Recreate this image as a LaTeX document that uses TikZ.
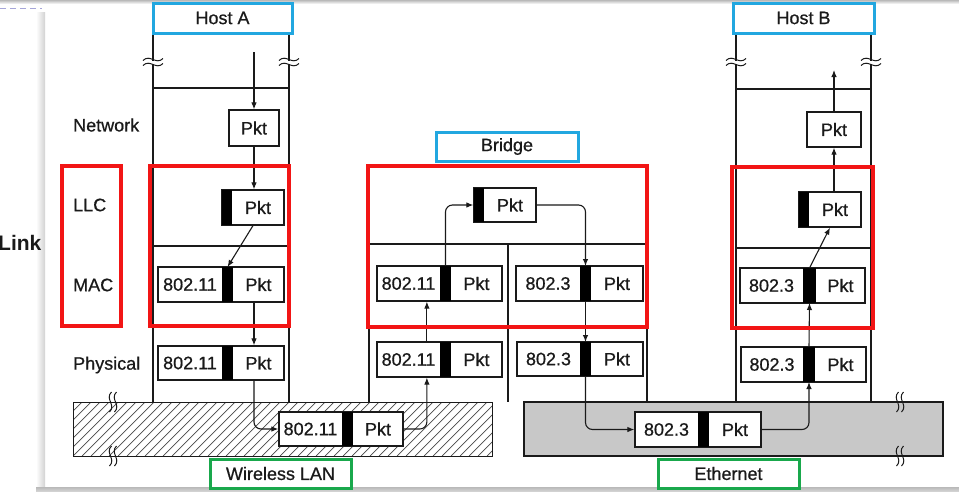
\documentclass[tikz,border=0pt]{standalone}
\usepackage{fontspec}
\setmainfont{Liberation Sans}
\usetikzlibrary{arrows.meta,calc}
\definecolor{hcyan}{HTML}{22A7E0}
\definecolor{hred}{HTML}{F21515}
\definecolor{hgreen}{HTML}{19A84C}
\definecolor{egray}{HTML}{C8C8C8}
\definecolor{ink}{HTML}{1A1A1A}
\tikzset{
  ln/.style={draw=ink,line width=1.2pt},
  pbox/.style={draw=ink,line width=1.2pt,fill=white,rectangle,inner sep=0pt},
  txt/.style={inner sep=0pt,font=\fontsize{18}{20}\selectfont\addfontfeature{FakeBold=0.7},text=ink},
  lbl/.style={txt,anchor=west},
  arr/.style={draw=ink,line width=1.1pt,-{Latex[length=7pt,width=5.5pt]}},
  redbox/.style={draw=hred,line width=3.5pt},
  cyanbox/.style={txt,draw=hcyan,line width=3pt,fill=white},
  greenbox/.style={txt,draw=hgreen,line width=3pt,fill=white},
  hatch/.style={draw=ink!80,line width=0.7pt},
}
% name, x1, y1, x2, y2, bar x1, bar x2, header label
\newcommand\pktbox[8]{%
  \node[pbox,minimum width={#4-#2},minimum height={#5-#3}] (#1) at ({(#2+#4)/2},{(#3+#5)/2}) {};
  \fill[black] (#6,#3) rectangle (#7,#5);
  \node[txt] (#1-h) at ({(#2+#6)/2},{(#3+#5)/2}) {#8};
  \node[txt] (#1-p) at ({(#7+#4)/2},{(#3+#5)/2}) {Pkt};
  \coordinate (#1-bt) at ({(#6+#7)/2},#3);
  \coordinate (#1-bb) at ({(#6+#7)/2},#5);
}
\newcommand\brkV[2]{%
  \fill[white] ({#1-2},{#2-1.5}) rectangle ({#1+2},{#2+1.5});
  \foreach \dy in {-2.5,2.5}{
    \draw[ink,line width=1pt] ({#1-10},{#2+(\dy)+1}) .. controls ({#1-3},{#2+(\dy)-6}) and ({#1+3},{#2+(\dy)+6}) .. ({#1+10},{#2+(\dy)-1});
  }}
\newcommand\brkH[2]{%
  \foreach \dx in {-2.5,2.5}{
    \draw[ink,line width=1pt] ({#1+(\dx)+1},{#2-10}) .. controls ({#1+(\dx)-6},{#2-3}) and ({#1+(\dx)+6},{#2+3}) .. ({#1+(\dx)-1},{#2+10});
  }}
\begin{document}
\begin{tikzpicture}[x=1pt,y=-1pt]
\useasboundingbox (0,0) rectangle (959,491);
% ---- frame ----
\fill[white] (0,0) rectangle (959,491);
\shade[top color=gray!55,bottom color=white] (0,0) rectangle (959,4);
\draw[gray!60!blue!50,line width=1pt,dash pattern=on 6pt off 4pt] (0,8) -- (42,8);
\shade[left color=white,right color=gray!35] (36,12) rectangle (45,487);
\shade[top color=gray!55,bottom color=gray!35] (36,487) rectangle (959,491);
\node[anchor=west,inner sep=0pt,font=\bfseries\fontsize{21}{24}\selectfont,text=ink] (link) at (-2,243) {Link};

% ---- bands ----
\begin{scope}
  \clip (73,402) rectangle (492,456);
  \foreach \i in {0,...,55}{
    \draw[hatch] ({19+9*\i},456) -- ++(54,-54);
  }
\end{scope}
\draw[ln,line width=0.9pt] (73,402) rectangle (492,456);
\fill[egray] (524,402) rectangle (943,456);
\draw[ln,line width=1.3pt] (524,402) rectangle (943,456);
\brkH{113}{402}
\brkH{113}{456}
\brkH{900}{402}
\brkH{900}{456}

% ---- layer labels ----
\node[lbl] (lnet) at (73,125) {Network};
\node[lbl] (lllc) at (73,205) {LLC};
\node[lbl] (lmac) at (73,285) {MAC};
\node[lbl] (lphy) at (73,365) {Physical};

% ---- Host A stack ----
\draw[ln] (153,33) -- (153,402);
\draw[ln] (289,33) -- (289,402);
\draw[ln] (153,88) -- (289,88);
\draw[ln] (153,166) -- (289,166);
\draw[ln] (153,246) -- (289,246);
\draw[ln] (153,326) -- (289,326);
\brkV{153}{62}
\brkV{289}{62}
\node[pbox,txt,minimum width=50,minimum height=36] (anet) at (254,128) {Pkt};
\pktbox{allc}{222}{190}{284}{225}{222}{232}{}
\pktbox{amac}{158}{267}{284}{302}{222}{233}{802.11}
\pktbox{aphy}{158}{346}{284}{380}{222}{233}{802.11}

% ---- Bridge stack ----
\draw[ln] (369,166) -- (369,402);
\draw[ln] (647,166) -- (647,402);
\draw[ln] (369,166) -- (647,166);
\draw[ln] (369,244) -- (647,244);
\draw[ln] (369,326) -- (647,326);
\draw[ln] (508,244) -- (508,402);
\pktbox{rllc}{474}{188}{536}{222}{474}{484}{}
\pktbox{rmac1}{377}{266}{502}{301}{440}{451}{802.11}
\pktbox{rmac2}{516}{266}{643}{301}{580}{591}{802.3}
\pktbox{rphy1}{377}{342}{502}{377}{440}{451}{802.11}
\pktbox{rphy2}{517}{342}{643}{376}{580}{591}{802.3}

% ---- Host B stack ----
\draw[ln] (736,33) -- (736,402);
\draw[ln] (871,33) -- (871,402);
\draw[ln] (736,89) -- (871,89);
\draw[ln] (736,167) -- (871,167);
\draw[ln] (736,248) -- (871,248);
\draw[ln] (736,328) -- (871,328);
\brkV{736}{62}
\brkV{871}{62}
\node[pbox,txt,minimum width=54,minimum height=35] (bnet) at (834,129.5) {Pkt};
\pktbox{bllc}{799}{192}{861}{227}{799}{809}{}
\pktbox{bmac}{740}{268}{865}{303}{803}{816}{802.3}
\pktbox{bphy}{741}{347}{866}{382}{803}{815}{802.3}

% ---- packets on the media ----
\pktbox{wpk}{279}{412}{403}{446}{342}{353}{802.11}
\pktbox{epk}{635}{412}{761}{447}{698}{709}{802.3}

% ---- connectors ----
\coordinate (atop) at (254,52);
\coordinate (btop) at (834,70);
\draw[arr] (atop) -- (anet.north);
\draw[arr] (anet.south) -- (anet.south |- allc.north);
\draw[arr] (allc.south) -- (amac-bt);
\draw[arr] (amac.south -| anet) -- (aphy.north -| anet);
\draw[arr,rounded corners=7pt] (aphy.south -| anet) |- (wpk.west);
\draw[arr,rounded corners=7pt] (wpk.east) -| ($(rphy1.south west)!0.4!(rphy1.south east)$);
\draw[arr] ($(rphy1.north west)!0.4!(rphy1.north east)$) -- ($(rmac1.south west)!0.4!(rmac1.south east)$);
\draw[arr,rounded corners=7pt] (rmac1-bt) |- (rllc.west);
\draw[arr,rounded corners=7pt] (rllc.east) -| (rmac2-bt);
\draw[arr] (rmac2-bb) -- (rphy2-bt);
\draw[arr,rounded corners=7pt] (rphy2-bb) |- (epk.west);
\draw[arr,rounded corners=7pt] (epk.east) -| (bphy-bb);
\draw[arr] (bphy-bt) -- (bmac-bb);
\draw[arr] (bmac-bt) -- (bllc.south);
\draw[arr] (bllc.north -| bnet) -- (bnet.south);
\draw[arr] (bnet.north) -- (btop);

% ---- highlight boxes ----
\draw[redbox] (62,166) rectangle (121,326);
\draw[redbox] (150,166) rectangle (289,326);
\draw[redbox] (368,166) rectangle (647,327);
\draw[redbox] (732,167) rectangle (873,328);
\node[cyanbox,minimum width=139,minimum height=30] (hosta) at (222.5,18) {Host A};
\node[cyanbox,minimum width=141,minimum height=30] (hostb) at (803.5,18) {Host B};
\node[cyanbox,minimum width=142,minimum height=29] (bridge) at (507,146.5) {Bridge};
\node[greenbox,minimum width=141,minimum height=29] (wlan) at (280.5,473.5) {Wireless LAN};
\node[greenbox,minimum width=141,minimum height=29] (eth) at (728.5,473.5) {Ethernet};
\end{tikzpicture}
\end{document}
